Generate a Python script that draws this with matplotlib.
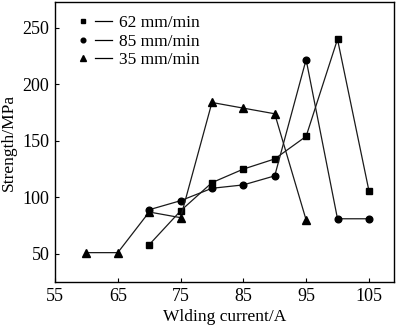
import matplotlib
matplotlib.use("Agg")
import matplotlib.pyplot as plt
from matplotlib.lines import Line2D
from matplotlib.legend_handler import HandlerTuple

plt.rcParams['font.family'] = ['Liberation Serif', 'DejaVu Serif']

x_62 = [70, 75, 80, 85, 90, 95, 100, 105]
s_62 = [58, 88, 113, 125, 134, 154, 240, 106]
x_85 = [70, 75, 80, 85, 90, 95, 100, 105]
s_85 = [89, 97, 108, 111, 119, 222, 81, 81]
x_35 = [60, 65, 70, 75, 80, 85, 90, 95]
s_35 = [51, 51, 87, 82, 184, 179, 174, 80]
labels = ['62 mm/min', '85 mm/min', '35 mm/min']
xticks = [55, 65, 75, 85, 95, 105]
yticks = [50, 100, 150, 200, 250]

fig = plt.figure(figsize=(4.0, 3.28), dpi=100)
ax = fig.add_axes([55/400, 1 - 282/328, (394-55)/400, (282-2)/328])

series = [(x_62, s_62, 's', 4.4), (x_85, s_85, 'o', 4.8), (x_35, s_35, '^', 5.2)]
handles = []
for (xs, ys, m, ms) in series:
    ax.plot(xs, ys, color='#1a1a1a', lw=0.9, marker=m, ms=ms,
            mfc='black', mec='black')
    hm = Line2D([], [], ls='none', marker=m, ms=ms * 0.7, color='black')
    hl = Line2D([], [], color='black', lw=0.9)
    handles.append((hm, hl))

ax.set_xlim(55, 109)
ax.set_ylim(25, 273)
ax.set_xticks(xticks)
ax.set_yticks(yticks)
ax.tick_params(direction='in', length=3, width=0.8, labelsize=13, pad=4)
for sp in ax.spines.values():
    sp.set_linewidth(1.0)
ax.set_xlabel('Wlding current/A', fontsize=12.5, labelpad=3)
ax.set_ylabel('Strength/MPa', fontsize=12.5, labelpad=4)

leg = ax.legend(handles, labels, handler_map={tuple: HandlerTuple(ndivide=None, pad=0.2)},
                loc='upper left', bbox_to_anchor=(0.025, 0.99), frameon=False,
                fontsize=12.5, handlelength=2.2, handletextpad=0.4,
                labelspacing=0.12, borderaxespad=0.2)

fig.savefig('out.png', dpi=100)
